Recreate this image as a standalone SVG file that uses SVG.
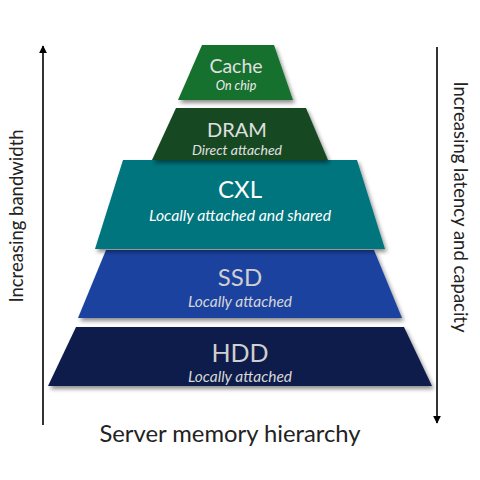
<svg xmlns="http://www.w3.org/2000/svg" width="480" height="480" viewBox="0 0 480 480">
<defs>
<filter id="sh" x="-10%" y="-10%" width="130%" height="140%">
<feGaussianBlur in="SourceAlpha" stdDeviation="2"/>
<feOffset dx="2" dy="3" result="b"/>
<feComponentTransfer><feFuncA type="linear" slope="0.45"/></feComponentTransfer>
<feMerge><feMergeNode/><feMergeNode in="SourceGraphic"/></feMerge>
</filter>
<marker id="ah" viewBox="0 0 10 10" refX="9" refY="5" markerWidth="5" markerHeight="5" orient="auto">
<path d="M0,0 L10,5 L0,10 z" fill="#000"/>
</marker>
</defs>
<style>
.t{font-family:Lato,"Open Sans",sans-serif;text-anchor:middle}
.s{font-family:Lato,"Open Sans",sans-serif;text-anchor:middle;font-style:italic}
.lbl{font-family:Lato,"Open Sans",sans-serif;text-anchor:middle;fill:#222;font-size:18.5px}
</style>
<rect width="480" height="480" fill="#fff"/>
<g id="connectors">
<line x1="43" y1="425" x2="43" y2="46" stroke="#000" stroke-width="1.6" marker-end="url(#ah)"/>
<line x1="437" y1="47" x2="437" y2="423" stroke="#000" stroke-width="1.6" marker-end="url(#ah)"/>
</g>
<g id="hdd">
<polygon points="76,327 404,327 432,386 48,386" fill="#0f1f4c" filter="url(#sh)"/>
<text class="t" x="240" y="362" font-size="25" fill="#cfcfcf">HDD</text>
<text class="s" x="240" y="382" font-size="15.5" fill="#d6d6d6">Locally attached</text>
</g>
<g id="ssd">
<polygon points="106,250 374,250 402,318 78,318" fill="#1a43a0" filter="url(#sh)"/>
<text class="t" x="240" y="286" font-size="24" fill="#cfcfcf">SSD</text>
<text class="s" x="240" y="307" font-size="15.5" fill="#d6d6d6">Locally attached</text>
</g>
<g id="cxl">
<polygon points="123,160 357,160 385,249 95,249" fill="#06757e" filter="url(#sh)"/>
<text class="t" x="240" y="198" font-size="24" fill="#fff">CXL</text>
<text class="s" x="240" y="221" font-size="15.8" fill="#fff">Locally attached and shared</text>
</g>
<g id="dram">
<polygon points="176,108 306,108 328,160 152,160" fill="#154a22" filter="url(#sh)"/>
<text class="t" x="237" y="137" font-size="20" fill="#e0e0e0">DRAM</text>
<text class="s" x="237" y="155" font-size="14" fill="#e0e0e0">Direct attached</text>
</g>
<g id="cache">
<polygon points="202,45 274,45 293,100 178,100" fill="#18702f" filter="url(#sh)"/>
<text class="t" x="236" y="73" font-size="19.5" fill="#e0e0e0">Cache</text>
<text class="s" x="236" y="90" font-size="12.5" fill="#ececec">On chip</text>
</g>
<g id="labels">
<text class="lbl" transform="translate(23,216) rotate(-90)">Increasing bandwidth</text>
<text class="lbl" transform="translate(454,207) rotate(90)">Increasing latency and capacity</text>
<text class="t" x="230" y="442" font-size="23.8" fill="#222">Server memory hierarchy</text>
</g>
</svg>
